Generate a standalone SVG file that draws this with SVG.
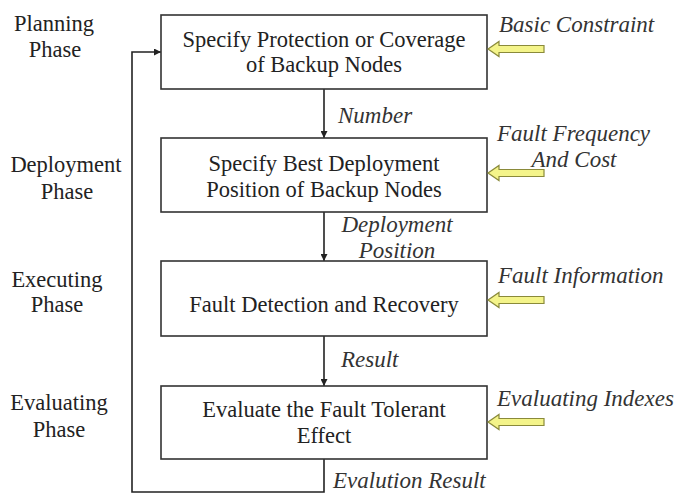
<svg xmlns="http://www.w3.org/2000/svg" width="678" height="493" viewBox="0 0 678 493">
  <style>
    .box { fill: #ffffff; stroke: #333333; stroke-width: 1.6; }
    .line { fill: none; stroke: #222222; stroke-width: 1.6; }
    text { font-family: "Liberation Serif", "DejaVu Serif", "Noto Serif", serif; }
    .t { font-size: 22.5px; fill: #222222; text-anchor: middle; }
    .it { font-size: 23px; font-style: italic; fill: #333333; }
    .ph { font-size: 22.5px; fill: #222222; text-anchor: middle; }
    .inarrow { fill: #f4f48a; stroke: #8a8a3a; stroke-width: 1.2; }
  </style>
  <defs>
    <marker id="head" viewBox="0 0 10 10" refX="10" refY="5" markerWidth="7" markerHeight="7" orient="auto" markerUnits="userSpaceOnUse">
      <path d="M0,0 L10,5 L0,10 z" fill="#222222"/>
    </marker>
    <!-- hollow block arrow pointing left, tip at origin -->
    <path id="blockArrow" class="inarrow" d="M0,0 L11,-7.5 L11,-3.5 L56,-3.5 L56,3.5 L11,3.5 L11,7.5 z"/>
  </defs>

  <!-- phase labels -->
  <g id="phases">
    <text class="ph" x="54" y="31">Planning</text>
    <text class="ph" x="55" y="57">Phase</text>
    <text class="ph" x="66" y="172">Deployment</text>
    <text class="ph" x="67" y="199">Phase</text>
    <text class="ph" x="57" y="287">Executing</text>
    <text class="ph" x="57" y="312">Phase</text>
    <text class="ph" x="59" y="410">Evaluating</text>
    <text class="ph" x="59" y="437">Phase</text>
  </g>

  <!-- connectors -->
  <g id="connectors">
    <line class="line" x1="324" y1="89" x2="324" y2="138" marker-end="url(#head)"/>
    <line class="line" x1="324" y1="212" x2="324" y2="261" marker-end="url(#head)"/>
    <line class="line" x1="324" y1="336" x2="324" y2="386" marker-end="url(#head)"/>
    <polyline class="line" points="324,459 324,492 132,492 132,52 161,52" marker-end="url(#head)"/>
    <text class="it" x="338" y="123">Number</text>
    <text class="it" x="397" y="232" text-anchor="middle">Deployment</text>
    <text class="it" x="397" y="258" text-anchor="middle">Position</text>
    <text class="it" x="341" y="367">Result</text>
    <text class="it" x="333" y="488">Evalution Result</text>
  </g>

  <g id="node1">
    <rect class="box" x="161" y="15" width="326" height="74"/>
    <text class="t" x="324" y="47">Specify Protection or Coverage</text>
    <text class="t" x="324" y="72">of Backup Nodes</text>
  </g>
  <g id="node2">
    <rect class="box" x="161" y="138" width="326" height="74"/>
    <text class="t" x="324" y="171">Specify Best Deployment</text>
    <text class="t" x="324" y="197">Position of Backup Nodes</text>
  </g>
  <g id="node3">
    <rect class="box" x="161" y="261" width="326" height="75"/>
    <text class="t" x="324" y="312">Fault Detection and Recovery</text>
  </g>
  <g id="node4">
    <rect class="box" x="161" y="386" width="326" height="73"/>
    <text class="t" x="324" y="417">Evaluate the Fault Tolerant</text>
    <text class="t" x="324" y="443">Effect</text>
  </g>

  <!-- external inputs -->
  <g id="input1">
    <use href="#blockArrow" x="488" y="49"/>
    <text class="it" x="499" y="32">Basic Constraint</text>
  </g>
  <g id="input2">
    <use href="#blockArrow" x="488" y="173"/>
    <text class="it" x="497" y="141">Fault Frequency</text>
    <text class="it" x="574" y="167" text-anchor="middle">And Cost</text>
  </g>
  <g id="input3">
    <use href="#blockArrow" x="488" y="300"/>
    <text class="it" x="498" y="283">Fault Information</text>
  </g>
  <g id="input4">
    <use href="#blockArrow" x="488" y="422"/>
    <text class="it" x="497" y="406">Evaluating Indexes</text>
  </g>
</svg>
